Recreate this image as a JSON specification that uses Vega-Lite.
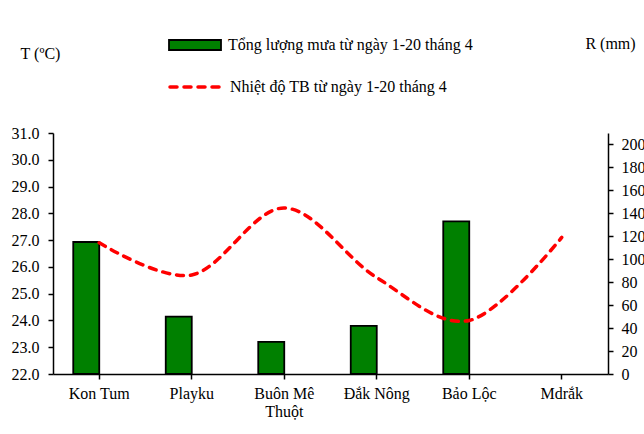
{
  "$schema": "https://vega.github.io/schema/vega-lite/v6.json",
  "autosize": {"type": "none"},
  "padding": {"left": 53, "top": 133, "right": 36, "bottom": 60},
  "width": 555,
  "height": 241,
  "background": "white",
  "config": {
    "view": {"stroke": null},
    "font": "Liberation Serif",
    "axis": {
      "grid": false,
      "domainColor": "black",
      "tickColor": "black",
      "labelColor": "black",
      "titleColor": "black",
      "labelFont": "Liberation Serif",
      "titleFont": "Liberation Serif",
      "labelFontSize": 16,
      "titleFontSize": 16,
      "titleFontWeight": "normal",
      "domainWidth": 1.5,
      "tickWidth": 1.5
    },
    "legend": {
      "labelFont": "Liberation Serif",
      "labelFontSize": 16,
      "labelColor": "black",
      "labelLimit": 0,
      "padding": 0
    }
  },
  "data": {
    "values": [
      {"station": "Kon Tum", "rain": 115, "temp": 26.9},
      {"station": "Playku", "rain": 50, "temp": 25.7},
      {"station": "Buôn Mê Thuột", "rain": 28, "temp": 28.2},
      {"station": "Đắk Nông", "rain": 42, "temp": 25.6},
      {"station": "Bảo Lộc", "rain": 133, "temp": 24.0},
      {"station": "Mdrắk", "rain": null, "temp": 27.1}
    ]
  },
  "encoding": {
    "x": {
      "field": "station",
      "type": "nominal",
      "sort": null,
      "scale": {"paddingInner": 0, "paddingOuter": 0},
      "axis": {
        "title": null,
        "labelAngle": 0,
        "tickSize": 5,
        "labelPadding": 6,
        "labelExpr": "datum.value == 'Buôn Mê Thuột' ? ['Buôn Mê', 'Thuột'] : datum.value"
      }
    }
  },
  "layer": [
    {
      "mark": {"type": "bar", "size": 26, "xOffset": -13, "stroke": "black", "strokeWidth": 1.8},
      "encoding": {
        "y": {
          "field": "rain",
          "type": "quantitative",
          "scale": {"domain": [0, 210], "nice": false},
          "axis": {
            "orient": "right",
            "values": [0, 20, 40, 60, 80, 100, 120, 140, 160, 180, 200],
            "tickSize": 5,
            "labelPadding": 8,
            "title": "R (mm)",
            "titleAngle": 0,
            "titleAlign": "center",
            "titleBaseline": "middle",
            "titleX": 2,
            "titleY": -90
          }
        },
        "fill": {
          "datum": "Tổng lượng mưa từ ngày  1-20 tháng 4",
          "scale": {"range": ["#008000"]},
          "legend": {
            "title": null,
            "orient": "none",
            "legendX": 115,
            "legendY": -115,
            "symbolType": "M-1,-0.192H1V0.192H-1Z",
            "symbolSize": 2704,
            "symbolStrokeColor": "black",
            "symbolStrokeWidth": 1.8,
            "labelOffset": 6
          }
        }
      }
    },
    {
      "mark": {"type": "line", "interpolate": "cardinal", "strokeWidth": 3.5, "strokeDash": [7, 7], "strokeCap": "round"},
      "encoding": {
        "y": {
          "field": "temp",
          "type": "quantitative",
          "scale": {"domain": [22, 31], "nice": false, "zero": false},
          "axis": {
            "orient": "left",
            "values": [22, 23, 24, 25, 26, 27, 28, 29, 30, 31],
            "format": ".1f",
            "tickSize": 5,
            "labelPadding": 9,
            "title": "T (ºC)",
            "titleAngle": 0,
            "titleAlign": "center",
            "titleBaseline": "middle",
            "titleX": -13,
            "titleY": -80
          }
        },
        "stroke": {
          "datum": "Nhiệt độ TB từ ngày  1-20 tháng 4",
          "scale": {"range": ["#ff0000"]},
          "legend": {
            "title": null,
            "orient": "none",
            "legendX": 115,
            "legendY": -74,
            "symbolType": "stroke",
            "symbolSize": 2704,
            "symbolStrokeWidth": 3.5,
            "symbolDash": [7, 7],
            "labelOffset": 6,
            "encode": {"symbols": {"update": {"strokeCap": {"value": "round"}}}}
          }
        }
      }
    }
  ],
  "resolve": {"scale": {"y": "independent"}}
}
